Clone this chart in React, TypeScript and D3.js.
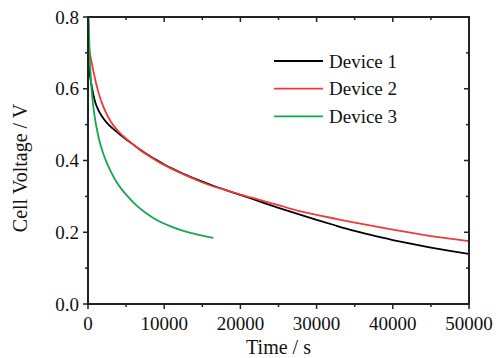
import React from "react";
import * as d3 from "d3";

const W = 498;
const H = 358;

const xTicks = [0, 10000, 20000, 30000, 40000, 50000];
const yTicks = [0.0, 0.2, 0.4, 0.6, 0.8];
const seriesNames = ["Device 1", "Device 2", "Device 3"];
const seriesColors = ["#000000", "#f03a3a", "#14a84e"];

const device1: [number, number][] = [
  [0, 0.68], [60, 0.668], [170, 0.651], [300, 0.632], [525, 0.603], [800, 0.574], [1050, 0.556],
  [1450, 0.537], [1930, 0.52], [2400, 0.507], [2800, 0.498], [3540, 0.484], [4200, 0.4725],
  [4860, 0.4615], [6000, 0.4435], [7000, 0.428], [8000, 0.414], [9000, 0.401], [10000, 0.389],
  [11000, 0.378], [12000, 0.368], [13000, 0.3585], [14000, 0.3495], [16000, 0.3331],
  [18000, 0.3181], [20000, 0.304], [22500, 0.286], [25000, 0.268], [27500, 0.251],
  [30000, 0.2345], [32500, 0.2188], [35000, 0.2038], [37500, 0.1903], [40000, 0.1783],
  [42500, 0.1673], [45000, 0.1573], [47500, 0.1483], [50000, 0.1398],
];
const device2: [number, number][] = [
  [0, 0.738], [100, 0.72], [250, 0.7], [450, 0.677], [700, 0.65], [1000, 0.621], [1350, 0.592],
  [1800, 0.562], [2300, 0.536], [3000, 0.508], [3700, 0.488], [4400, 0.472], [5200, 0.4575],
  [6000, 0.4435], [7000, 0.4265], [8000, 0.4125], [9000, 0.3995], [10000, 0.3875],
  [11000, 0.3765], [12000, 0.3665], [13000, 0.357], [14000, 0.348], [16000, 0.331],
  [18000, 0.318], [20000, 0.305], [22500, 0.2905], [25000, 0.2755], [27500, 0.2605],
  [30000, 0.2485], [32500, 0.2375], [35000, 0.227], [37500, 0.2168], [40000, 0.2072],
  [42500, 0.198], [45000, 0.1895], [47500, 0.182], [50000, 0.175],
];
const device3: [number, number][] = [
  [0, 0.8], [100, 0.79], [150, 0.743], [250, 0.68], [394, 0.622], [600, 0.569], [830, 0.529],
  [1100, 0.494], [1490, 0.456], [1900, 0.426], [2360, 0.399], [3000, 0.369], [3670, 0.343],
  [4300, 0.323], [5000, 0.305], [6390, 0.274], [7500, 0.255], [8570, 0.24], [9600, 0.228],
  [10760, 0.217], [12950, 0.201], [14700, 0.192], [16440, 0.184],
];
const allSeries = [device1, device2, device3];

export default function App() {
  const left = 88, right = 469, top = 17, bottom = 304;
  const x = d3.scaleLinear().domain([0, 50000]).range([left, right]);
  const y = d3.scaleLinear().domain([0, 0.8]).range([bottom, top]);
  const line = d3
    .line<[number, number]>()
    .x((d) => x(d[0]))
    .y((d) => y(d[1]))
    .curve(d3.curveMonotoneX);

  const xMinor = d3.range(0, 50001, 5000);
  const yMinor = d3.range(0, 9).map((i) => i / 10);
  const font =
    "'Times New Roman', 'Liberation Serif', Tinos, 'DejaVu Serif', 'Noto Serif', FreeSerif, serif";
  const axisColor = "#222";
  const txt = { fontFamily: font };

  return (
    <svg width={W} height={H} style={{ position: "absolute", left: 0, top: 0, background: "#fff" }}>
      <rect x={0} y={0} width={W} height={H} fill="#fff" />
      <defs>
        <clipPath id="plot">
          <rect x={left} y={top} width={right - left} height={bottom - top} />
        </clipPath>
      </defs>
      <g clipPath="url(#plot)">
        {allSeries.map((s, i) => (
          <path key={i} d={line(s) || ""} fill="none" stroke={seriesColors[i]} strokeWidth={1.8} />
        ))}
      </g>
      <rect x={left} y={top} width={right - left} height={bottom - top} fill="none" stroke={axisColor} strokeWidth={2} />
      {xMinor.map((v) => {
        const major = v % 10000 === 0;
        const len = major ? 5 : 3;
        return (
          <g key={"xt" + v}>
            <line x1={x(v)} x2={x(v)} y1={bottom} y2={bottom + len} stroke={axisColor} strokeWidth={1.5} />
            <line x1={x(v)} x2={x(v)} y1={top} y2={top + len} stroke={axisColor} strokeWidth={1.5} />
          </g>
        );
      })}
      {yMinor.map((v, i) => {
        const major = i % 2 === 0;
        const len = major ? 5 : 3;
        return (
          <g key={"yt" + i}>
            <line x1={left - len} x2={left} y1={y(v)} y2={y(v)} stroke={axisColor} strokeWidth={1.5} />
            <line x1={right - len} x2={right} y1={y(v)} y2={y(v)} stroke={axisColor} strokeWidth={1.5} />
          </g>
        );
      })}
      {xTicks.map((v) => (
        <text key={"xl" + v} x={x(v)} y={330} textAnchor="middle" style={txt} fontSize={19} fill="#111">
          {v}
        </text>
      ))}
      {yTicks.map((v) => (
        <text key={"yl" + v} x={79} y={y(v) + 6.5} textAnchor="end" style={txt} fontSize={19} fill="#111">
          {v.toFixed(1)}
        </text>
      ))}
      <text x={(left + right) / 2} y={354} textAnchor="middle" style={txt} fontSize={20} fill="#111">
        Time / s
      </text>
      <text transform="translate(27, 168) rotate(-90)" textAnchor="middle" style={txt} fontSize={20} fill="#111">
        Cell Voltage / V
      </text>
      {seriesNames.map((n, i) => {
        const ly = 61 + i * 27.7;
        return (
          <g key={n}>
            <line x1={274} x2={323} y1={ly} y2={ly} stroke={seriesColors[i]} strokeWidth={1.8} />
            <text x={329} y={ly + 6.5} style={txt} fontSize={19} fill="#111">
              {n}
            </text>
          </g>
        );
      })}
    </svg>
  );
}
